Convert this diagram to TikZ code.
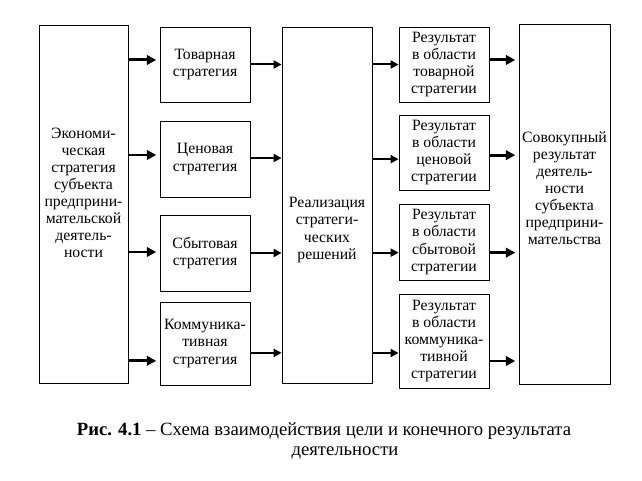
\documentclass[tikz,border=0pt]{standalone}
\usepackage{fontspec}
\setmainfont{Liberation Serif}
\usepackage{tikz}
\usetikzlibrary{arrows.meta,positioning}
\newcommand{\blockfont}{\fontsize{11.8}{12.8}\selectfont}
\newcommand{\capfont}{\fontsize{14}{15}\selectfont}
\tikzstyle{block} = [draw, line width=0.6pt, minimum width=67.5pt, inner sep=1pt, align=center, font=\blockfont]
\tikzstyle{label} = [inner sep=0pt, align=center, font=\blockfont]
\tikzstyle{arrow} = [line width=1.5pt, -{Triangle[length=6pt,width=6pt]}]
\tikzstyle{boldarrow} = [line width=2.2pt, -{Triangle[length=7pt,width=7pt]}, shorten >=2.5pt]

\begin{document}
\begin{tikzpicture}[x=0.75pt, y=-0.75pt]
\useasboundingbox (0,0) rectangle (642,481);

% left column
\node[block, minimum width=66.75pt, minimum height=268.5pt] (econ) at (83.5,204) {};
\node[label] (econ-text) at (83.5,193) {Экономи-\\ческая\\стратегия\\субъекта\\предприни-\\мательской\\деятель-\\ности};

% strategies
\node[block, minimum height=56.25pt] (tov) at (205,64.5) {Товарная\\стратегия};
\node[block, minimum height=57pt] (cen) at (205,159) {Ценовая\\стратегия};
\node[block, minimum height=57pt] (sbyt) at (205,253) {Сбытовая\\стратегия};
\node[block, minimum height=62.25pt] (komm) at (205,343.5) {Коммуника-\\тивная\\стратегия};

% realization
\node[block, minimum height=267pt] (real) at (327,205) {};
\node[label] (real-text) at (327,230) {Реализация\\стратеги-\\ческих\\решений};

% results
\node[block, minimum height=56.25pt] (res1) at (444,64.5) {Результат\\в области\\товарной\\стратегии};
\node[block, minimum height=56.25pt] (res2) at (444,152.5) {Результат\\в области\\ценовой\\стратегии};
\node[block, minimum height=57pt] (res3) at (444,242) {Результат\\в области\\сбытовой\\стратегии};
\node[block, minimum height=70.5pt] (res4) at (444,341) {Результат\\в области\\коммуника-\\тивной\\стратегии};

% total result
\node[block, minimum width=68.25pt, minimum height=270pt] (total) at (564.5,204) {};
\node[label] (total-text) at (564.5,188) {Совокупный\\результат\\деятель-\\ности\\субъекта\\предприни-\\мательства};

% arrows
\draw[boldarrow] ([yshift=3.4pt]econ.east |- tov.west) -- ([yshift=3.4pt]tov.west);
\draw[boldarrow] ([yshift=3pt]econ.east |- cen.west) -- ([yshift=3pt]cen.west);
\draw[boldarrow] ([yshift=0.75pt]econ.east |- sbyt.west) -- ([yshift=0.75pt]sbyt.west);
\draw[boldarrow] ([yshift=-13pt]econ.east |- komm.west) -- ([yshift=-13pt]komm.west);

\draw[arrow] (tov.east) -- (tov.east -| real.west);
\draw[arrow] ([yshift=0.75pt]cen.east) -- ([yshift=0.75pt]cen.east -| real.west);
\draw[arrow] (sbyt.east) -- (sbyt.east -| real.west);
\draw[arrow] ([yshift=-7pt]komm.east) -- ([yshift=-7pt]komm.east -| real.west);

\draw[arrow] (real.east |- res1.west) -- (res1.west);
\draw[arrow] ([yshift=-5pt]real.east |- res2.west) -- ([yshift=-5pt]res2.west);
\draw[arrow] ([yshift=-8pt]real.east |- res3.west) -- ([yshift=-8pt]res3.west);
\draw[arrow] ([yshift=-9pt]real.east |- res4.west) -- ([yshift=-9pt]res4.west);

\draw[boldarrow] ([yshift=3.4pt]res1.east) -- ([yshift=3.4pt]res1.east -| total.west);
\draw[boldarrow] ([yshift=-2pt]res2.east) -- ([yshift=-2pt]res2.east -| total.west);
\draw[boldarrow] ([yshift=-8pt]res3.east) -- ([yshift=-8pt]res3.east -| total.west);
\draw[boldarrow] ([yshift=-15pt]res4.east) -- ([yshift=-15pt]res4.east -| total.west);

% caption
\node[anchor=base, font=\capfont, inner sep=0pt] (cap1) at (324,435) {\textbf{Рис. 4.1} – Схема взаимодействия цели и конечного результата};
\node[anchor=base, font=\capfont, inner sep=0pt] (cap2) at (345,455) {деятельности};
\end{tikzpicture}
\end{document}
